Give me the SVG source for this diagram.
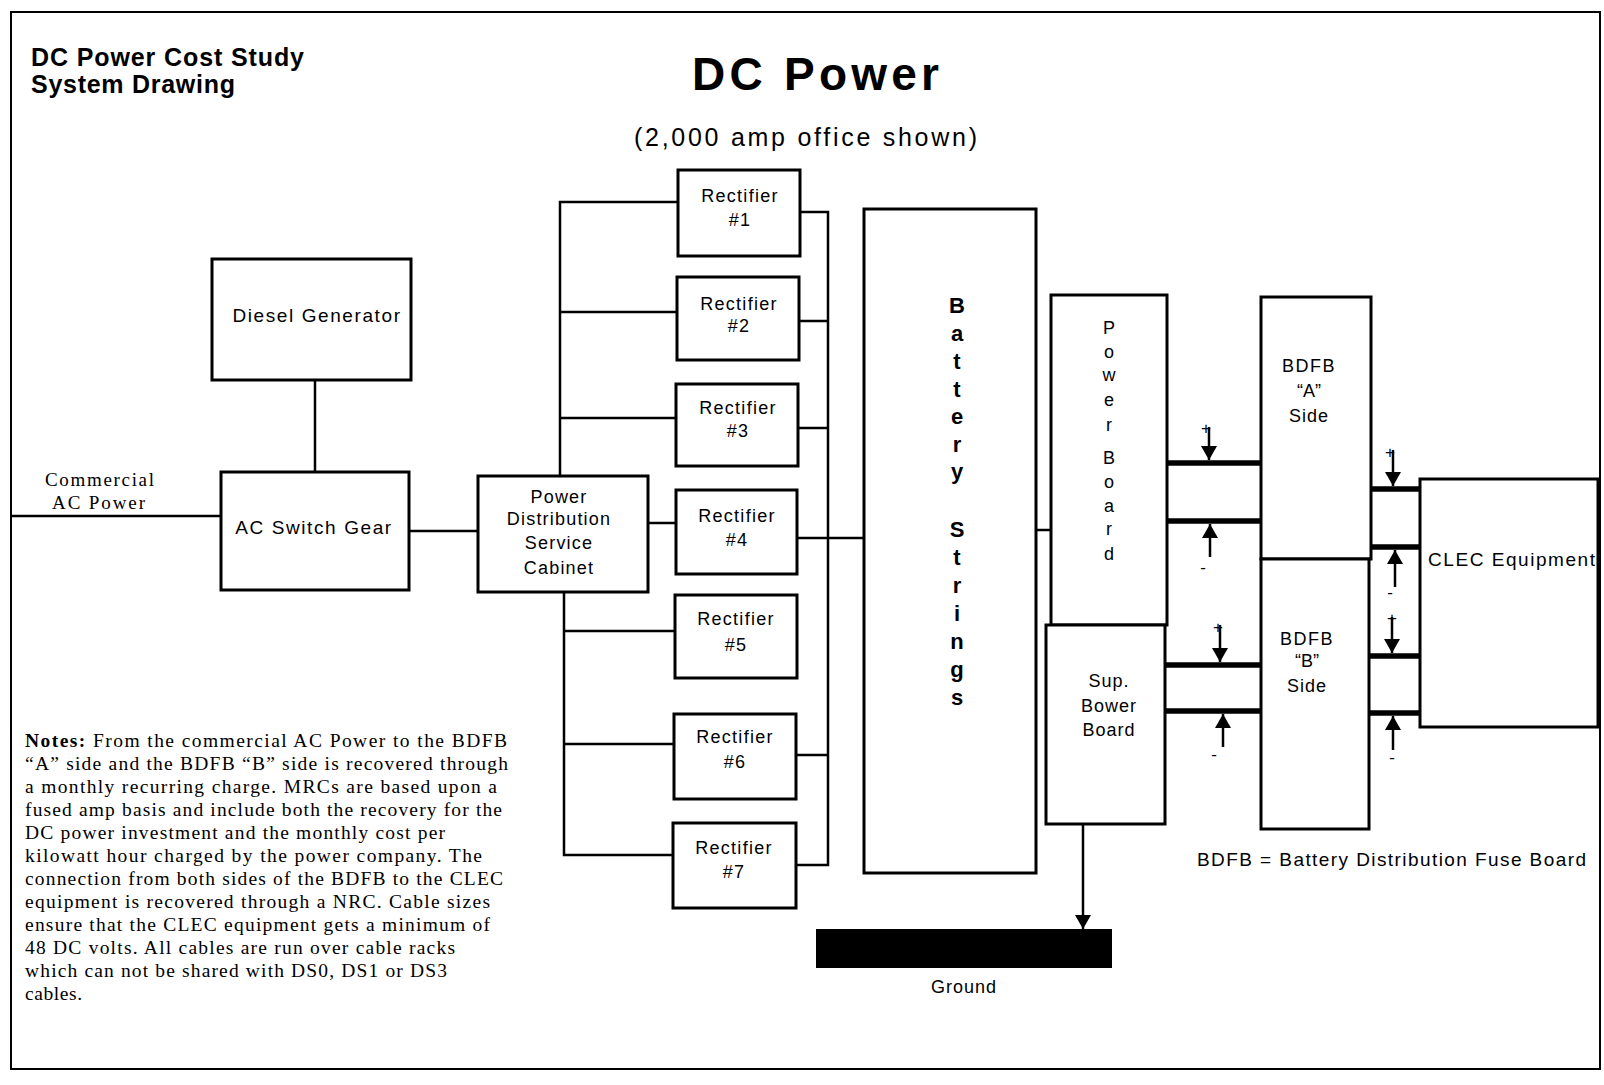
<svg xmlns="http://www.w3.org/2000/svg" width="1604" height="1085" viewBox="0 0 1604 1085">
<style>
.box{fill:#fff;stroke:#000;stroke-width:3}
.ln{fill:none;stroke:#000;stroke-width:2.5}
.thick{fill:none;stroke:#000;stroke-width:5.5}
.arr{fill:none;stroke:#000;stroke-width:2.5}
.s{font-family:"Liberation Sans",Arial,sans-serif;font-size:18px;fill:#000}
.c{text-anchor:middle}
.serif{font-family:"Liberation Serif","Times New Roman",serif;font-size:19.5px;fill:#000}
.bat{font-family:"Liberation Sans",Arial,sans-serif;font-size:22px;font-weight:bold;text-anchor:middle}
.pm{font-family:"Liberation Sans",Arial,sans-serif;font-size:17px;text-anchor:middle}
</style>
<defs>
<marker id="ah" viewBox="0 0 14 16" refX="14" refY="8" markerWidth="14" markerHeight="16" orient="auto" markerUnits="userSpaceOnUse">
<path d="M0,0 L14,8 L0,16 z" fill="#000"/>
</marker>
</defs>
<rect x="0" y="0" width="1604" height="1085" fill="#fff"/>
<rect x="11" y="12" width="1589" height="1057" fill="none" stroke="#000" stroke-width="2"/>

<g id="titles">
<text x="31" y="66" class="s" style="font-size:25px;font-weight:bold" textLength="273" lengthAdjust="spacing">DC Power Cost Study</text>
<text x="31" y="93" class="s" style="font-size:25px;font-weight:bold" textLength="204" lengthAdjust="spacing">System Drawing</text>
<text x="692" y="90" class="s" style="font-size:46px;font-weight:bold" textLength="247" lengthAdjust="spacing">DC Power</text>
<text x="634" y="146" class="s" style="font-size:25px" textLength="343" lengthAdjust="spacing">(2,000 amp office shown)</text>
<text x="45" y="486" class="serif" style="font-size:19px" textLength="109" lengthAdjust="spacing">Commercial</text>
<text x="52" y="509" class="serif" style="font-size:19px" textLength="93" lengthAdjust="spacing">AC Power</text>
</g>

<g id="connectors">
<path class="ln" d="M11,516 H221"/>
<path class="ln" d="M315,380 V472"/>
<path class="ln" d="M409,531 H478"/>
<path class="ln" d="M560,476 V202 H678 M560,312 H677 M560,418 H676"/>
<path class="ln" d="M648,523 H676"/>
<path class="ln" d="M564,592 V855 H673 M564,631 H675 M564,744 H674"/>
<path class="ln" d="M800,212 H828 V865 H796 M799,321 H828 M798,428 H828 M797,538 H864 M796,755 H828"/>
<path class="ln" d="M1036,530 H1051"/>
<path class="arr" d="M1083,824 V929" marker-end="url(#ah)"/>
<path class="thick" d="M1167,463 H1261 M1167,521 H1261 M1165,665 H1261 M1165,711 H1261"/>
<path class="thick" d="M1368,489 H1420 M1368,547 H1420 M1368,656 H1422 M1368,713 H1420"/>
<path class="arr" d="M1209,427 V460" marker-end="url(#ah)"/>
<path class="arr" d="M1210,557 V524" marker-end="url(#ah)"/>
<path class="arr" d="M1220,625 V662" marker-end="url(#ah)"/>
<path class="arr" d="M1223,747 V714" marker-end="url(#ah)"/>
<path class="arr" d="M1393,450 V486" marker-end="url(#ah)"/>
<path class="arr" d="M1395,587 V550" marker-end="url(#ah)"/>
<path class="arr" d="M1392,617 V653" marker-end="url(#ah)"/>
<path class="arr" d="M1393,750 V716" marker-end="url(#ah)"/>
<text class="pm" x="1206" y="434">+</text>
<text class="pm" x="1203" y="573">-</text>
<text class="pm" x="1218" y="633">+</text>
<text class="pm" x="1214" y="760">-</text>
<text class="pm" x="1390" y="458">+</text>
<text class="pm" x="1390" y="598">-</text>
<text class="pm" x="1392" y="624">+</text>
<text class="pm" x="1392" y="763">-</text>
</g>

<g id="diesel">
<rect class="box" x="212" y="259" width="199" height="121"/>
<text class="s c" x="317" y="322" style="font-size:19px;letter-spacing:1.6px">Diesel Generator</text>
</g>
<g id="acswitch">
<rect class="box" x="221" y="472" width="188" height="118"/>
<text class="s c" x="314" y="534" style="font-size:19px;letter-spacing:1.6px">AC Switch Gear</text>
</g>
<g id="pdsc">
<rect class="box" x="478" y="476" width="170" height="116"/>
<text class="s c" x="559" y="503" style="letter-spacing:1.2px">Power</text>
<text class="s c" x="559" y="525" style="letter-spacing:1.2px">Distribution</text>
<text class="s c" x="559" y="549" style="letter-spacing:1.2px">Service</text>
<text class="s c" x="559" y="574" style="letter-spacing:1.2px">Cabinet</text>
</g>

<g id="rect1"><rect class="box" x="678" y="170" width="122" height="86"/>
<text class="s c" x="740" y="202" style="letter-spacing:1.3px">Rectifier</text><text class="s c" x="740" y="226" style="letter-spacing:1.3px">#1</text></g>
<g id="rect2"><rect class="box" x="677" y="277" width="122" height="83"/>
<text class="s c" x="739" y="310" style="letter-spacing:1.3px">Rectifier</text><text class="s c" x="739" y="332" style="letter-spacing:1.3px">#2</text></g>
<g id="rect3"><rect class="box" x="676" y="384" width="122" height="82"/>
<text class="s c" x="738" y="414" style="letter-spacing:1.3px">Rectifier</text><text class="s c" x="738" y="437" style="letter-spacing:1.3px">#3</text></g>
<g id="rect4"><rect class="box" x="676" y="490" width="121" height="84"/>
<text class="s c" x="737" y="522" style="letter-spacing:1.3px">Rectifier</text><text class="s c" x="737" y="546" style="letter-spacing:1.3px">#4</text></g>
<g id="rect5"><rect class="box" x="675" y="595" width="122" height="83"/>
<text class="s c" x="736" y="625" style="letter-spacing:1.3px">Rectifier</text><text class="s c" x="736" y="651" style="letter-spacing:1.3px">#5</text></g>
<g id="rect6"><rect class="box" x="674" y="714" width="122" height="85"/>
<text class="s c" x="735" y="743" style="letter-spacing:1.3px">Rectifier</text><text class="s c" x="735" y="768" style="letter-spacing:1.3px">#6</text></g>
<g id="rect7"><rect class="box" x="673" y="823" width="123" height="85"/>
<text class="s c" x="734" y="854" style="letter-spacing:1.3px">Rectifier</text><text class="s c" x="734" y="878" style="letter-spacing:1.3px">#7</text></g>

<g id="battery">
<rect class="box" x="864" y="209" width="172" height="664"/>
<text class="bat">
<tspan x="957" y="313">B</tspan><tspan x="957" y="341">a</tspan><tspan x="957" y="369">t</tspan><tspan x="957" y="397">t</tspan><tspan x="957" y="424">e</tspan><tspan x="957" y="452">r</tspan><tspan x="957" y="479">y</tspan><tspan x="957" y="537">S</tspan><tspan x="957" y="565">t</tspan><tspan x="957" y="593">r</tspan><tspan x="957" y="621">i</tspan><tspan x="957" y="649">n</tspan><tspan x="957" y="677">g</tspan><tspan x="957" y="705">s</tspan>
</text>
</g>

<g id="powerboard">
<rect class="box" x="1051" y="295" width="116" height="330"/>
<text class="s c">
<tspan x="1109" y="334">P</tspan><tspan x="1109" y="358">o</tspan><tspan x="1109" y="381">w</tspan><tspan x="1109" y="406">e</tspan><tspan x="1109" y="431">r</tspan><tspan x="1109" y="464">B</tspan><tspan x="1109" y="488">o</tspan><tspan x="1109" y="512">a</tspan><tspan x="1109" y="535">r</tspan><tspan x="1109" y="560">d</tspan>
</text>
</g>
<g id="supboard">
<rect class="box" x="1046" y="625" width="119" height="199"/>
<text class="s c" x="1109" y="687" style="letter-spacing:1px">Sup.</text>
<text class="s c" x="1109" y="712" style="letter-spacing:1px">Bower</text>
<text class="s c" x="1109" y="736" style="letter-spacing:1px">Board</text>
</g>

<g id="ground">
<rect x="816" y="929" width="296" height="39" fill="#000"/>
<text class="s c" x="964" y="993" style="letter-spacing:1px">Ground</text>
</g>

<g id="bdfbA">
<rect class="box" x="1261" y="297" width="110" height="262"/>
<text class="s c" x="1309" y="372" style="letter-spacing:1.5px">BDFB</text>
<text class="s c" x="1309" y="397">“A”</text>
<text class="s c" x="1309" y="422" style="letter-spacing:1px">Side</text>
</g>
<g id="bdfbB">
<rect class="box" x="1261" y="559" width="108" height="270"/>
<text class="s c" x="1307" y="645" style="letter-spacing:1.5px">BDFB</text>
<text class="s c" x="1307" y="667">“B”</text>
<text class="s c" x="1307" y="692" style="letter-spacing:1px">Side</text>
</g>

<g id="clec">
<rect class="box" x="1420" y="479" width="178" height="248"/>
<text class="s" x="1428" y="566" style="font-size:19px" textLength="167" lengthAdjust="spacing">CLEC Equipment</text>
</g>

<text class="s" x="1197" y="866" style="font-size:19px" textLength="389" lengthAdjust="spacing">BDFB = Battery Distribution Fuse Board</text>

<g id="notes" class="serif">
<text x="25" y="747" textLength="482" lengthAdjust="spacing"><tspan font-weight="bold">Notes:</tspan>  From the commercial AC Power to the BDFB</text>
<text x="25" y="770" textLength="483" lengthAdjust="spacing">“A” side and the BDFB “B” side is recovered through</text>
<text x="25" y="793" textLength="472" lengthAdjust="spacing">a monthly recurring charge.  MRCs are based upon a</text>
<text x="25" y="816" textLength="477" lengthAdjust="spacing">fused amp basis and include both the recovery for the</text>
<text x="25" y="839" textLength="420" lengthAdjust="spacing">DC power investment and the monthly cost per</text>
<text x="25" y="862" textLength="457" lengthAdjust="spacing">kilowatt hour charged by the power company.  The</text>
<text x="25" y="885" textLength="478" lengthAdjust="spacing">connection from both sides of the BDFB to the CLEC</text>
<text x="25" y="908" textLength="465" lengthAdjust="spacing">equipment is recovered through a NRC.  Cable sizes</text>
<text x="25" y="931" textLength="465" lengthAdjust="spacing">ensure that the CLEC equipment gets a minimum of</text>
<text x="25" y="954" textLength="430" lengthAdjust="spacing">48 DC volts.  All cables are run over cable racks</text>
<text x="25" y="977" textLength="422" lengthAdjust="spacing">which can not be shared with DS0, DS1 or DS3</text>
<text x="25" y="1000" textLength="57" lengthAdjust="spacing">cables.</text>
</g>
</svg>
